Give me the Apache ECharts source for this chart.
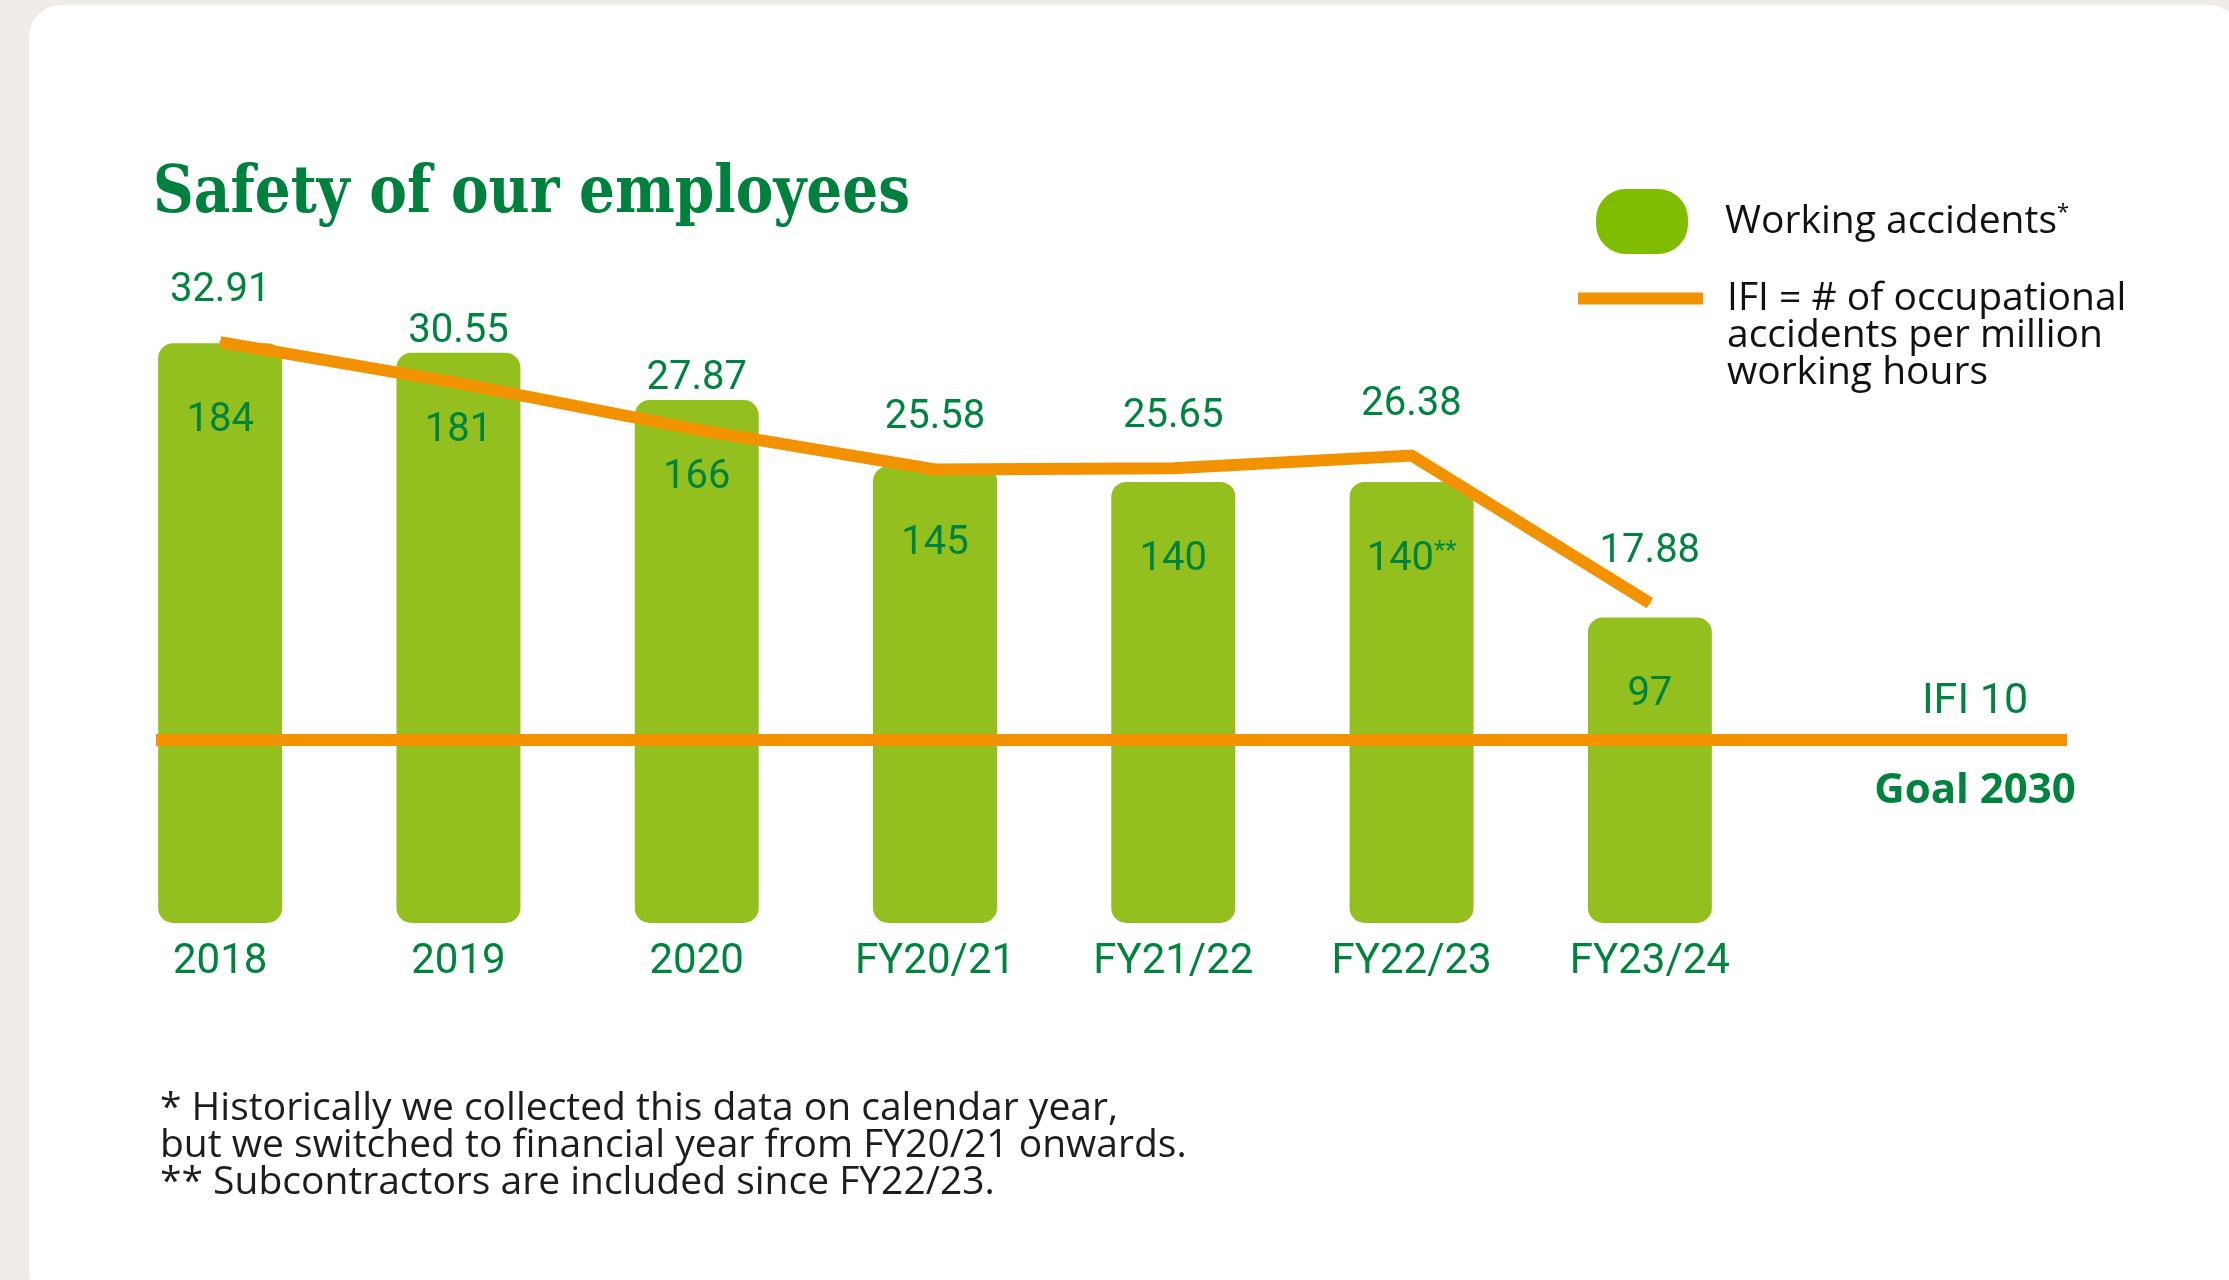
<!DOCTYPE html>
<html>
<head>
<meta charset="utf-8">
<title>Safety of our employees</title>
<script src="https://cdn.jsdelivr.net/npm/echarts@6/dist/echarts.min.js"></script>
<style>
  html, body { margin: 0; padding: 0; background: #efebe9; overflow: hidden; }
  .card {
    position: absolute; left: 29px; top: 5px; width: 2212px; height: 1300px;
    background: #ffffff; border-radius: 32px;
  }
  #chart { position: absolute; left: 0; top: 0; width: 2229px; height: 1280px; }
</style>
</head>
<body>
<div class="card"></div>
<div id="chart"></div>
<script>
// data
const categories = ['2018', '2019', '2020', 'FY20/21', 'FY21/22', 'FY22/23', 'FY23/24'];
const accidents = [184, 181, 166, 145, 140, 140, 97];
const accidentNotes = ['', '', '', '', '', '**', ''];
const ifi = [32.91, 30.55, 27.87, 25.58, 25.65, 26.38, 17.88];
const ifiGoal = 10;
const goalYear = 2030;

const GREEN_BAR = '#93c01f';
const GREEN_LEGEND = '#80bc00';
const GREEN_TEXT = '#00843d';
const ORANGE = '#f39200';
const FONT = 'Roboto';
const TEXT_FONT = '"Open Sans"';

const chart = echarts.init(document.getElementById('chart'));

// both value axes share the same plot box
const gridTop = 200;
const gridBottom = 357;

const option = {
  animation: false,
  grid: [
    { left: 101, width: 1668, top: gridTop, bottom: gridBottom },
    { left: 156, right: 162, top: gridTop, bottom: gridBottom }  // goal line spans wider
  ],
  legend: [
    {
      data: ['Working accidents'],
      left: 1596, top: 189, padding: 0,
      itemWidth: 92, itemHeight: 65,
      icon: 'path://M30,0 H62 A30,30 0 0 1 92,30 V35 A30,30 0 0 1 62,65 H30 A30,30 0 0 1 0,35 V30 A30,30 0 0 1 30,0 Z',
      itemStyle: { color: GREEN_LEGEND },
      selectedMode: false,
      formatter: name => name + '{sup|*}',
      textStyle: {
        fontFamily: TEXT_FONT, fontSize: 39, color: '#111111', padding: [0, 0, 0, 32],
        rich: { sup: { fontFamily: TEXT_FONT, fontSize: 22, color: '#111111', padding: [0, 0, 18, 0] } }
      }
    },
    {
      data: ['IFI'],
      left: 1578, top: 298 - 112, padding: 0,
      itemWidth: 125, itemHeight: 12,
      icon: 'rect',
      itemStyle: { color: ORANGE },
      selectedMode: false,
      // two leading blank lines keep the first text line level with the icon
      formatter: () => '\n\nIFI = # of occupational\naccidents per million\nworking hours',
      textStyle: {
        fontFamily: TEXT_FONT, fontSize: 39, lineHeight: 37, color: '#111111',
        padding: [0, 0, 40, 19]
      }
    }
  ],
  xAxis: [
    {
      type: 'category', data: categories, gridIndex: 0,
      axisLine: { show: false }, axisTick: { show: false }, splitLine: { show: false },
      axisLabel: { fontFamily: FONT, fontSize: 42, color: GREEN_TEXT, margin: 18 }
    },
    { type: 'value', gridIndex: 1, min: 0, max: 1, show: false }
  ],
  yAxis: [
    { type: 'value', gridIndex: 0, min: 0, max: 229.5, show: false, splitLine: { show: false } },
    { type: 'value', gridIndex: 0, min: -0.535, max: 41.09, show: false, splitLine: { show: false } },
    { type: 'value', gridIndex: 1, min: -0.535, max: 41.09, show: false, splitLine: { show: false } }
  ],
  series: [
    {
      name: 'Working accidents',
      type: 'bar',
      xAxisIndex: 0, yAxisIndex: 0,
      data: accidents,
      barWidth: 124,
      itemStyle: { color: GREEN_BAR, borderRadius: 15 },
      label: {
        show: true, position: 'insideTop', distance: 58,
        fontFamily: FONT, fontSize: 40, color: GREEN_TEXT,
        formatter: p => p.value + (accidentNotes[p.dataIndex] ? '{sup|' + accidentNotes[p.dataIndex] + '}' : ''),
        rich: { sup: { fontFamily: FONT, fontSize: 26, color: GREEN_TEXT, padding: [0, 0, 14, 0] } }
      },
      z: 2
    },
    {
      name: 'Goal',
      type: 'line',
      xAxisIndex: 1, yAxisIndex: 2,
      data: [[0, ifiGoal], [1, ifiGoal]],
      symbol: 'none',
      lineStyle: { color: ORANGE, width: 12, cap: 'butt' },
      silent: true,
      z: 3
    },
    {
      name: 'IFI',
      type: 'line',
      xAxisIndex: 0, yAxisIndex: 1,
      data: ifi,
      symbol: 'circle',
      symbolSize: 2,
      showSymbol: true,
      itemStyle: { color: ORANGE },
      lineStyle: { color: ORANGE, width: 12, join: 'miter', cap: 'butt' },
      label: {
        show: true, position: 'top', distance: 30,
        fontFamily: FONT, fontSize: 40, color: GREEN_TEXT,
        formatter: p => p.value.toFixed(2)
      },
      z: 4
    }
  ],
  graphic: [
    {
      type: 'text', x: 153, y: 162, scaleX: 0.856,
      style: {
        text: 'Safety of our employees',
        font: 'bold 66px "DejaVu Serif"', fill: '#00803d'
      }
    },
    {
      type: 'text', x: 1975, y: 702,
      style: {
        text: 'IFI ' + ifiGoal, font: '43px ' + FONT, fill: GREEN_TEXT,
        align: 'center', verticalAlign: 'middle'
      }
    },
    {
      type: 'text', x: 1975, y: 791,
      style: {
        text: 'Goal ' + goalYear, font: 'bold 42px ' + TEXT_FONT, fill: GREEN_TEXT,
        align: 'center', verticalAlign: 'middle'
      }
    },
    {
      type: 'text', x: 160, y: 1090,
      style: {
        text: '* Historically we collected this data on calendar year,\nbut we switched to financial year from FY20/21 onwards.\n** Subcontractors are included since FY22/23.',
        font: '39px ' + TEXT_FONT, lineHeight: 37, fill: '#1d1d1b'
      }
    }
  ]
};

chart.setOption(option);
</script>
</body>
</html>
